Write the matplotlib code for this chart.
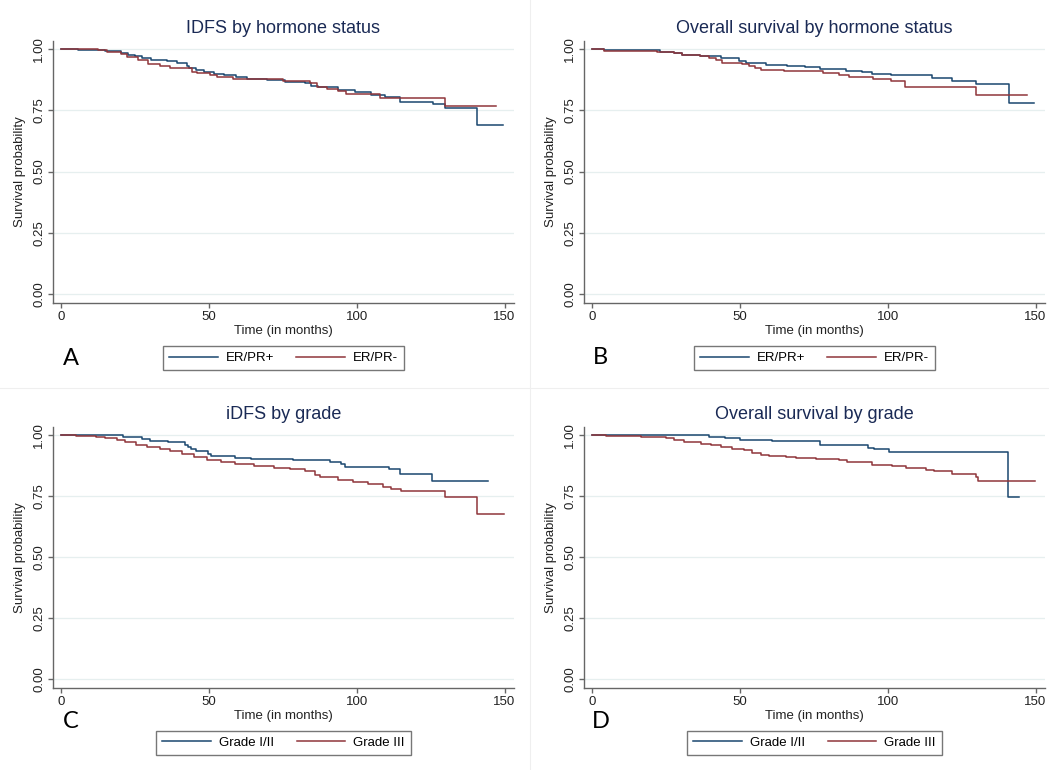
import matplotlib.pyplot as plt
from matplotlib.lines import Line2D

plt.rcParams['font.family'] = ['Liberation Sans', 'DejaVu Sans']

# Panel A - IDFS by hormone status
a_pos_t = [0, 5.8, 14.9, 20.4, 22.7, 25, 27.5, 30.3, 36, 39.3, 42.7, 43.3, 45.6, 48.4, 51.8, 55.2, 59.1, 63,
           69.8, 75.7, 82.4, 84.7, 86.9, 93.7, 99.3, 105, 109.5, 114.6, 125.7, 130, 140.8, 149.5]
a_pos_s = [1.0, .996, .992, .984, .977, .972, .963, .957, .95, .943, .932, .923, .914, .906, .899, .893, .886, .879,
           .875, .867, .863, .851, .845, .831, .823, .814, .805, .785, .774, .760, .69, .69]
a_neg_t = [0, 12.6, 15.5, 20.4, 22.2, 26.2, 29.5, 33.5, 36.9, 44.2, 45.9, 50.4, 52.6, 58.3, 75, 84.2, 86.5, 90,
           93.7, 96.5, 108, 130, 147]
a_neg_s = [1.0, .995, .988, .98, .969, .955, .939, .931, .921, .905, .901, .894, .887, .876, .871, .86, .845, .838,
           .83, .815, .80, .766, .766]

# Panel B - Overall survival by hormone status
b_pos_t = [0, 4.1, 22.9, 27.7, 30.4, 36.6, 43.6, 49.7, 52, 59, 66, 72, 77, 85.8, 91.4, 94.8, 101, 115.1, 121.8,
           130, 140.9, 149.5]
b_pos_s = [1.0, .995, .989, .982, .977, .973, .965, .952, .944, .936, .93, .925, .917, .91, .905, .899, .894, .880,
           .868, .856, .778, .778]
b_neg_t = [0, 4.1, 22, 27.7, 30.4, 36.6, 39.5, 42, 44, 50.8, 53, 55, 57, 65, 78, 83.5, 87, 95, 101, 106, 130, 147]
b_neg_s = [1.0, .993, .99, .985, .977, .973, .962, .955, .945, .94, .932, .922, .915, .909, .902, .895, .887, .877,
           .868, .845, .812, .812]

# Panel C - iDFS by grade
c_low_t = [0, 21, 27.3, 30, 36.3, 41.9, 43, 44.1, 45.8, 49.8, 50.9, 58.8, 64.4, 78.5, 90.9, 94.8, 96.2, 110.8,
           114.5, 125.6, 144.4]
c_low_s = [1.0, .993, .982, .975, .970, .96, .951, .944, .933, .923, .913, .906, .902, .898, .89, .88, .871, .86,
           .839, .81, .81]
c_high_t = [0, 5, 12, 14.9, 18.9, 21.8, 25.2, 29.1, 33.6, 37, 41, 44.9, 49.4, 54, 59, 65.2, 72, 77.4, 82.4, 85.8,
            87.5, 93.7, 98.7, 103.9, 108.9, 111.7, 115, 130, 140.8, 149.7]
c_high_s = [1.0, .998, .994, .988, .981, .971, .958, .95, .941, .933, .924, .91, .899, .889, .88, .873, .865, .86,
            .851, .837, .828, .817, .808, .798, .787, .780, .772, .746, .678, .678]

# Panel D - Overall survival by grade
d_low_t = [0, 39.5, 45, 50, 61, 77, 93.5, 95.5, 100.5, 140.8, 144.5]
d_low_s = [1.0, .993, .988, .981, .975, .958, .948, .941, .930, .746, .746]
d_high_t = [0, 4.6, 16.5, 24.9, 27.7, 31.1, 36.8, 40.1, 43.5, 47.4, 51.4, 54.2, 57, 59.8, 65.5, 68.9, 75.6, 83.5,
            86.3, 94.8, 101.5, 106.1, 112.8, 115.6, 121.8, 129.7, 130.6, 149.7]
d_high_s = [1.0, .998, .994, .988, .978, .971, .964, .960, .951, .944, .937, .928, .92, .914, .91, .906, .90, .899,
            .89, .879, .872, .865, .858, .851, .841, .827, .813, .813]

titles = ['IDFS by hormone status', 'Overall survival by hormone status',
          'iDFS by grade', 'Overall survival by grade']
letters = ['A', 'B', 'C', 'D']
legend_labels = [['ER/PR+', 'ER/PR-'], ['ER/PR+', 'ER/PR-'],
                 ['Grade I/II', 'Grade III'], ['Grade I/II', 'Grade III']]
curves = [(a_pos_t, a_pos_s, a_neg_t, a_neg_s), (b_pos_t, b_pos_s, b_neg_t, b_neg_s),
          (c_low_t, c_low_s, c_high_t, c_high_s), (d_low_t, d_low_s, d_high_t, d_high_s)]

x_ticks = [0, 50, 100, 150]
y_ticks = [0, 0.25, 0.5, 0.75, 1.0]
y_tick_labels = ['0.00', '0.25', '0.50', '0.75', '1.00']

BLUE = '#1a476f'
RED = '#90353b'
NAVY = '#1a2a55'

fig = plt.figure(figsize=(10.49, 7.70), dpi=100)
W, H = 1049, 770

# axes boxes in pixels: left, top, right, bottom
boxes = [(53, 41, 514, 303), (584, 41, 1045, 303), (53, 427, 514, 688), (584, 427, 1045, 688)]
letter_pos = [(71, 358), (600, 357), (71, 721), (601, 721)]

for i in range(4):
    l, t, r, b = boxes[i]
    ax = fig.add_axes([l / W, 1 - b / H, (r - l) / W, (b - t) / H])
    t1, s1, t2, s2 = curves[i]
    ax.step(t1, s1, where='post', color=BLUE, lw=1.1, label=legend_labels[i][0])
    ax.step(t2, s2, where='post', color=RED, lw=1.1, label=legend_labels[i][1])

    ax.set_xlim(-2.7, 153.2)
    ax.set_ylim(-0.037, 1.033)
    ax.set_xticks(x_ticks)
    ax.set_yticks(y_ticks)
    ax.set_yticklabels(y_tick_labels)
    plt.setp(ax.get_yticklabels(), rotation=90, va='center')
    for y in y_ticks:
        ax.axhline(y, color='#e6efef', lw=0.9, zorder=0)

    for side in ['top', 'right']:
        ax.spines[side].set_visible(False)
    for side in ['left', 'bottom']:
        ax.spines[side].set_color('#666666')
        ax.spines[side].set_linewidth(1.0)
    ax.tick_params(colors='#666666', labelcolor='#222222', length=3.5, width=1.0, pad=2, labelsize=9.5)

    ax.set_xlabel('Time (in months)', fontsize=9.5, labelpad=2, color='#222222')
    ax.set_ylabel('Survival probability', fontsize=9.5, labelpad=5, color='#222222')
    ax.set_title(titles[i], fontsize=13, color=NAVY, pad=6)

    ax.legend(loc='center', bbox_to_anchor=(0.5, -0.21), ncol=2, fontsize=9.5,
              frameon=True, fancybox=False, edgecolor='#555555', handlelength=3.7,
              handletextpad=0.6, columnspacing=1.7, borderpad=0.45)
    ax.get_legend().get_frame().set_linewidth(1.0)

    lx, ly = letter_pos[i]
    fig.text(lx / W, 1 - ly / H, letters[i], fontsize=17, ha='center', va='center',
             family=['Lato', 'DejaVu Sans'])

# faint separators between the panels
fig.add_artist(Line2D([530 / W, 530 / W], [0, 1], color='#efefef', lw=0.8))
fig.add_artist(Line2D([0, 1], [1 - 388 / H, 1 - 388 / H], color='#efefef', lw=0.8))

fig.savefig('out.png', dpi=100)
